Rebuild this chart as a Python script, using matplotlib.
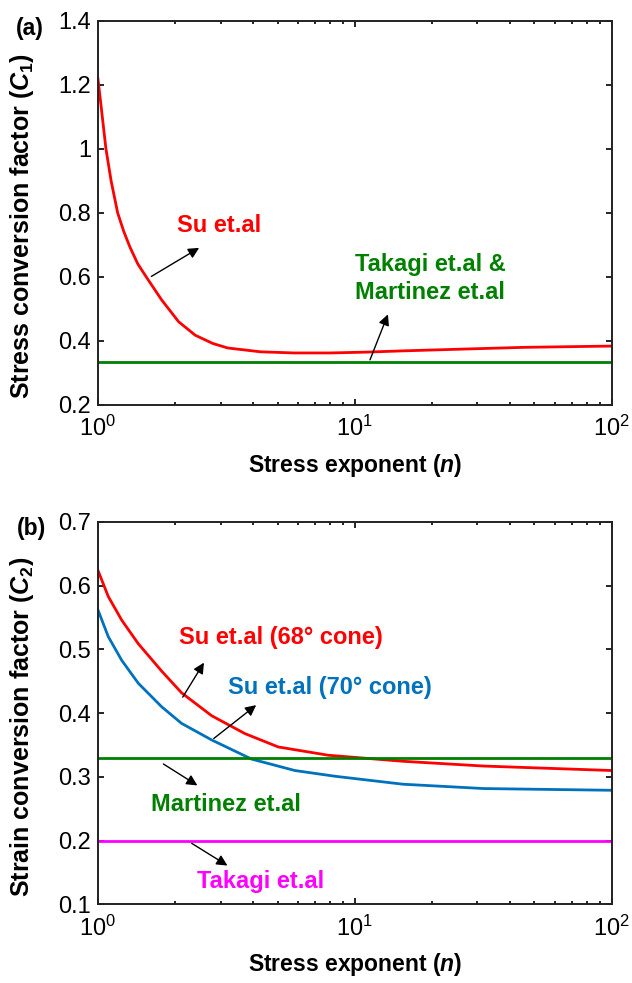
import numpy as np
import matplotlib
matplotlib.use('Agg')
import matplotlib.pyplot as plt

plt.rcParams['font.family'] = ['Liberation Sans', 'DejaVu Sans']
plt.rcParams['mathtext.fontset'] = 'custom'
plt.rcParams['mathtext.rm'] = 'Liberation Sans:bold'
plt.rcParams['mathtext.it'] = 'Liberation Sans:italic:bold'
plt.rcParams['mathtext.bf'] = 'Liberation Sans:bold'

# ---- data (a): stress conversion factor C1 ----
n_a = [1, 1.033, 1.074, 1.125, 1.193, 1.26, 1.332, 1.43, 1.547, 1.77, 2.06, 2.39,
       2.8, 3.2, 4.3, 5.8, 8, 11, 15.4, 25, 45.6, 100]
su_c1 = [1.218, 1.12, 1.0, 0.9, 0.8, 0.742, 0.693, 0.640, 0.598, 0.528, 0.46, 0.418,
         0.392, 0.378, 0.366, 0.3625, 0.3625, 0.365, 0.369, 0.374, 0.380, 0.384]
takagi_martinez_c1 = 1 / 3

# ---- data (b): strain conversion factor C2 ----
n_b = [1, 1.097, 1.237, 1.435, 1.77, 2.115, 2.77, 3.73, 5.03, 7.87, 15.4, 31.8, 100]
su68_c2 = [0.624, 0.583, 0.546, 0.509, 0.466, 0.432, 0.396, 0.368, 0.347, 0.334, 0.3245, 0.317, 0.310]
n_b70 = [1, 1.097, 1.237, 1.435, 1.77, 2.115, 2.77, 3.96, 5.84, 8.37, 15.4, 31.8, 100]
su70_c2 = [0.562, 0.52, 0.483, 0.447, 0.41, 0.384, 0.358, 0.328, 0.310, 0.301, 0.2885, 0.2817, 0.279]
martinez_c2 = 0.33
takagi_c2 = 0.2

red = '#FF0000'
green = '#008000'
blue = '#0072BD'
magenta = '#FF00FF'

fig = plt.figure(figsize=(6.32, 9.83), dpi=100)
ax1 = fig.add_axes([0.155, 0.588, 0.813, 0.391])
ax2 = fig.add_axes([0.155, 0.080, 0.813, 0.389])

def style(ax, ylim, yticks, ylabel):
    ax.set_xscale('log')
    ax.set_xlim(1, 100)
    ax.set_ylim(*ylim)
    ax.set_yticks(yticks)
    ax.set_yticklabels([f'{v:g}' for v in yticks])
    ax.tick_params(which='both', direction='in', top=True, right=True, labelsize=17, width=1.2)
    ax.tick_params(which='major', length=4)
    ax.tick_params(which='minor', length=2.5)
    ax.tick_params(axis='x', pad=8)
    ax.tick_params(axis='y', pad=5)
    for s in ax.spines.values():
        s.set_linewidth(1.4)
        s.set_color('#222222')
    ax.set_xlabel(r'Stress exponent ($\mathit{n}$)', fontsize=16.5, fontweight='bold')
    ax.xaxis.set_label_coords(0.5, -0.122)
    ax.set_ylabel(ylabel, fontsize=18, fontweight='bold')
    ax.yaxis.set_label_coords(-0.121, 0.465)

# ---- panel (a) ----
ax1.plot(n_a, su_c1, color=red, lw=2)
ax1.axhline(takagi_martinez_c1, color=green, lw=2)
style(ax1, (0.2, 1.4), [0.2, 0.4, 0.6, 0.8, 1, 1.2, 1.4], r'Stress conversion factor ($\mathit{C}_{1}$)')

arrow = dict(arrowstyle='-|>', color='black', lw=1, mutation_scale=16)
ax1.annotate('', xy=(2.53, 0.695), xytext=(1.58, 0.597), arrowprops=arrow)
ax1.annotate('', xy=(13.57, 0.491), xytext=(11.35, 0.333), arrowprops=arrow)
ax1.text(2.03, 0.759, 'Su et.al', color=red, fontsize=17, fontweight='bold', va='center')
ax1.text(10.0, 0.6375, 'Takagi et.al &', color=green, fontsize=17, fontweight='bold', va='center')
ax1.text(10.0, 0.552, 'Martinez et.al', color=green, fontsize=17, fontweight='bold', va='center')

# ---- panel (b) ----
ax2.plot(n_b, su68_c2, color=red, lw=2)
ax2.plot(n_b70, su70_c2, color=blue, lw=2)
ax2.axhline(martinez_c2, color=green, lw=2)
ax2.axhline(takagi_c2, color=magenta, lw=2)
style(ax2, (0.1, 0.7), [0.1, 0.2, 0.3, 0.4, 0.5, 0.6, 0.7], r'Strain conversion factor ($\mathit{C}_{2}$)')

ax2.annotate('', xy=(2.62, 0.483), xytext=(2.11, 0.4215), arrowprops=arrow)
ax2.annotate('', xy=(4.21, 0.4153), xytext=(2.77, 0.3576), arrowprops=arrow)
ax2.annotate('', xy=(2.49, 0.2843), xytext=(1.76, 0.3226), arrowprops=arrow)
ax2.annotate('', xy=(3.26, 0.1586), xytext=(2.27, 0.198), arrowprops=arrow)
ax2.text(2.07, 0.519, 'Su et.al (68° cone)', color=red, fontsize=17, fontweight='bold', va='center')
ax2.text(3.20, 0.441, 'Su et.al (70° cone)', color=blue, fontsize=17, fontweight='bold', va='center')
ax2.text(1.61, 0.257, 'Martinez et.al', color=green, fontsize=17, fontweight='bold', va='center')
ax2.text(2.44, 0.136, 'Takagi et.al', color=magenta, fontsize=17, fontweight='bold', va='center')

fig.text(30 / 632, 1 - 28 / 983, '(a)', fontsize=16.5, fontweight='bold', ha='center', va='center')
fig.text(31 / 632, 1 - 528 / 983, '(b)', fontsize=16.5, fontweight='bold', ha='center', va='center')

fig.savefig('out.png', dpi=100)
